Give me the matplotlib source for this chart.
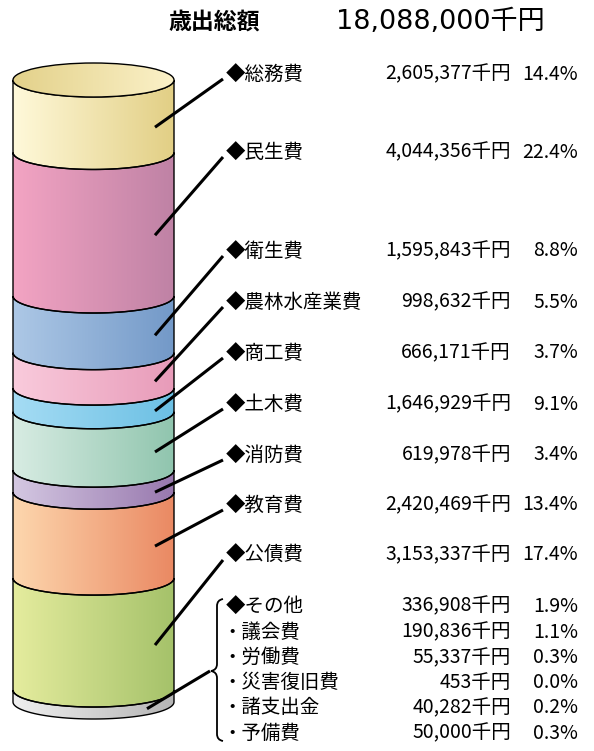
import numpy as np
import matplotlib.pyplot as plt
from matplotlib.path import Path
from matplotlib.patches import PathPatch, Ellipse
from matplotlib.colors import to_rgb

plt.rcParams['font.family'] = ['Noto Sans CJK JP', 'DejaVu Sans']

# データ (千円)
total = 18088000
categories = ['総務費', '民生費', '衛生費', '農林水産業費', '商工費',
              '土木費', '消防費', '教育費', '公債費', 'その他']
amounts = [2605377, 4044356, 1595843, 998632, 666171,
           1646929, 619978, 2420469, 3153337, 336908]
sub_names = ['議会費', '労働費', '災害復旧費', '諸支出金', '予備費']
sub_amounts = [190836, 55337, 453, 40282, 50000]

colors = [('#FFF9DA', '#E2CF85'), ('#F3A4C3', '#BF82A5'), ('#ADC8E6', '#7399C8'),
          ('#F9CBDC', '#E89BB9'), ('#A5DCF4', '#6CC0E4'), ('#D8ECE3', '#90C5AE'),
          ('#D4C8E2', '#9878AE'), ('#FDD7AE', '#EA8963'), ('#E5EC9E', '#A5C26A'),
          ('#EFEFEF', '#B5B5B5')]

# レイアウト (ピクセル座標)
cx, rx, ry = 93.5, 80.5, 17
y_start, y_end = 60, 702
label_y = [74, 152, 251, 302, 353, 404, 455, 505, 555, 606]
sub_y0, sub_dy = 632, 25.3


def gradient(c0, c1):
    a, b = np.array(to_rgb(c0)), np.array(to_rgb(c1))
    t = np.linspace(0, 1, 256)[:, None]
    return (a + (b - a) * t)[None, :, :]


def segment_path(yt, yb):
    t = np.linspace(0, np.pi, 60)
    xs_b = cx - rx * np.cos(t)
    ys_b = yb + ry * np.sin(t)
    xs_t = cx + rx * np.cos(t)
    ys_t = yt + ry * np.sin(t)
    xs = np.concatenate([[cx - rx], xs_b, [cx + rx], xs_t])
    ys = np.concatenate([[yt], ys_b, [yt], ys_t])
    verts = np.column_stack([xs, ys])
    verts = np.vstack([verts, verts[:1]])
    codes = [Path.MOVETO] + [Path.LINETO] * (len(verts) - 2) + [Path.CLOSEPOLY]
    return Path(verts, codes)


fig = plt.figure(figsize=(5.94, 7.51), dpi=100)
ax = fig.add_axes([0, 0, 1, 1])
ax.set_xlim(0, 594)
ax.set_ylim(751, 0)
ax.axis('off')

scale = (y_end - y_start) / total
cum = np.concatenate([[0], np.cumsum(amounts)])
bounds = y_start + cum * scale
bounds[0] = 63 + ry

for i in range(len(amounts)):
    yt, yb = bounds[i], bounds[i + 1]
    path = segment_path(yt, yb)
    patch = PathPatch(path, facecolor='none', edgecolor='black', lw=1.0, zorder=3)
    ax.add_patch(patch)
    im = ax.imshow(gradient(*colors[i]), extent=(cx - rx, cx + rx, yb + ry + 1, yt - 1),
                   aspect='auto', zorder=2, interpolation='bilinear')
    im.set_clip_path(patch)

# 上面
cap = Ellipse((cx, bounds[0]), 2 * rx, 2 * ry, facecolor='none', edgecolor='black', lw=1.0, zorder=5)
ax.add_patch(cap)
im = ax.imshow(gradient('#E3D18A', '#FBF1C8'), extent=(cx - rx, cx + rx, bounds[0] + ry, bounds[0] - ry),
               aspect='auto', zorder=4, interpolation='bilinear')
im.set_clip_path(cap)

# 引出線とラベル
fs = 14
for i, name in enumerate(categories):
    ymid = (bounds[i] + bounds[i + 1]) / 2
    if i == len(categories) - 1:
        px = 147
        ymid = ymid + ry * np.sqrt(1 - ((px - cx) / rx) ** 2)
        ax.plot([210, px], [671, ymid], color='black', lw=2.2, zorder=6, solid_capstyle='butt')
    else:
        px = 155
        ymid = ymid + ry * np.sqrt(1 - ((px - cx) / rx) ** 2)
        ax.plot([223, px], [label_y[i] + 5, ymid], color='black', lw=2.2, zorder=6, solid_capstyle='butt')
    ax.text(226, label_y[i], '◆' + name, fontsize=fs, va='center', ha='left')
    ax.text(511, label_y[i], f'{amounts[i]:,}千円', fontsize=fs, va='center', ha='right')
    ax.text(578, label_y[i], f'{amounts[i] / total * 100:.1f}%', fontsize=fs, va='center', ha='right')

for j, name in enumerate(sub_names):
    y = sub_y0 + j * sub_dy
    ax.text(222, y, '・' + name, fontsize=fs, va='center', ha='left')
    ax.text(511, y, f'{sub_amounts[j]:,}千円', fontsize=fs, va='center', ha='right')
    ax.text(578, y, f'{sub_amounts[j] / total * 100:.1f}%', fontsize=fs, va='center', ha='right')

# 中括弧
bv = [(223, 599), (217, 600), (217, 606), (217, 664), (217, 670), (211, 671),
      (217, 672), (217, 678), (217, 734), (217, 740), (223, 741)]
bc = [Path.MOVETO, Path.CURVE3, Path.CURVE3, Path.LINETO, Path.CURVE3, Path.CURVE3,
      Path.CURVE3, Path.CURVE3, Path.LINETO, Path.CURVE3, Path.CURVE3]
ax.add_patch(PathPatch(Path(bv, bc), facecolor='none', edgecolor='black', lw=1.3, zorder=6))

# タイトル
ax.text(168, 22, '歳出総額', fontsize=16.5, fontweight='bold', va='center', ha='left')
ax.text(545, 22, f'{total:,}千円', fontsize=19.5, va='center', ha='right',
        family=['DejaVu Sans', 'Noto Sans CJK JP'])

fig.savefig('out.png', dpi=100)
